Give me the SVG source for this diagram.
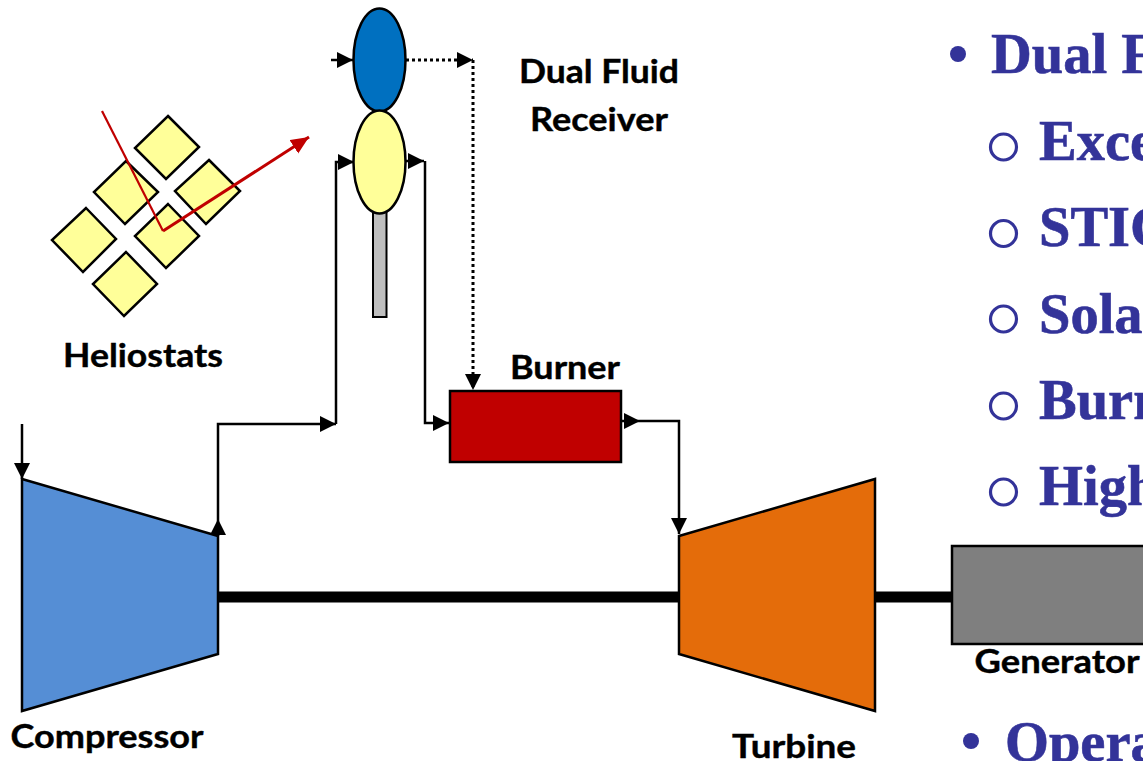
<svg xmlns="http://www.w3.org/2000/svg" width="1143" height="761" viewBox="0 0 1143 761">
<style>
.s{stroke:#000;stroke-width:2.500}
.h{fill:#ffff99}
.l{font-family:Lato,"Open Sans",sans-serif;font-weight:700;font-size:32px;fill:#000;text-anchor:middle;stroke:#000;stroke-width:.4}
.b{font-family:"Liberation Serif","Times New Roman",serif;font-weight:700;font-size:56.500px;fill:#333399;stroke:#333399;stroke-width:.6}
.c{fill:none;stroke:#000;stroke-width:2.500}
.d{fill:none;stroke:#000;stroke-width:3;stroke-dasharray:3 3}
.o{fill:none;stroke:#333399;stroke-width:3.200}
</style>
<defs>
<marker id="a" markerUnits="userSpaceOnUse" markerWidth="16" markerHeight="16" refX="16" refY="8" orient="auto"><path d="M0 0L16 8L0 16Z" fill="#000"/></marker>
<marker id="r" markerUnits="userSpaceOnUse" markerWidth="20" markerHeight="18" refX="18" refY="8" orient="auto"><path d="M0 0L18 8L0 16Z" fill="#c00000"/></marker>
</defs>
<rect width="1143" height="761" fill="#fff"/>
<g id="heliostats">
<path class="s h" d="M168 116L199 147L166 179L135 148Z"/>
<path class="s h" d="M126 161L158 192L125 224L94 192Z"/>
<path class="s h" d="M209 160L240 191L206 224L175 191Z"/>
<path class="s h" d="M86 208L116 239L83 272L52 240Z"/>
<path class="s h" d="M168 204L199 236L166 268L135 236Z"/>
<path class="s h" d="M126 252L157 284L124 316L93 284Z"/>
<path d="M102 111L163 231" fill="none" stroke="#c00000" stroke-width="2.200"/>
<path d="M163 231L309 137" fill="none" stroke="#c00000" stroke-width="3" marker-end="url(#r)"/>
<text class="l" x="143" y="367" textLength="160" lengthAdjust="spacingAndGlyphs">Heliostats</text>
</g>
<g id="receiver">
<rect x="373" y="210" width="13.500" height="107" fill="#bfbfbf" stroke="#000" stroke-width="2"/>
<ellipse cx="379.500" cy="60" rx="26" ry="51.500" fill="#0070c0" class="s"/>
<ellipse cx="379.500" cy="162" rx="26" ry="51.500" class="s h"/>
<text class="l" x="599" y="83" textLength="160" lengthAdjust="spacingAndGlyphs">Dual Fluid</text>
<text class="l" x="599" y="131" textLength="138" lengthAdjust="spacingAndGlyphs">Receiver</text>
</g>
<g id="burner">
<rect x="450" y="391" width="171" height="71" fill="#c00000" class="s"/>
<text class="l" x="565" y="379" textLength="110" lengthAdjust="spacingAndGlyphs">Burner</text>
</g>
<g id="compressor">
<path class="s" d="M22 479L218 536V654L22 711Z" fill="#558ed5"/>
<text class="l" x="107" y="748" textLength="193" lengthAdjust="spacingAndGlyphs">Compressor</text>
</g>
<g id="turbine">
<path class="s" d="M679 536L875 479V711L679 654Z" fill="#e46c0a"/>
<text class="l" x="794" y="758" textLength="124" lengthAdjust="spacingAndGlyphs">Turbine</text>
</g>
<g id="generator">
<rect x="952" y="546" width="200" height="98" fill="#7f7f7f" class="s"/>
<text class="l" x="1057" y="673" textLength="165" lengthAdjust="spacingAndGlyphs">Generator</text>
</g>
<g id="connectors">
<path d="M218 597H679M875 597H952" fill="none" stroke="#000" stroke-width="11"/>
<path class="c" d="M22 424V479" marker-end="url(#a)"/>
<path class="c" d="M218 519V424H336" marker-end="url(#a)"/>
<path class="c" d="M218 536V519" marker-end="url(#a)"/>
<path class="c" d="M336 424V162H354" marker-end="url(#a)"/>
<path class="c" d="M331 60H353" marker-end="url(#a)"/>
<path class="d" d="M406 60H473" marker-end="url(#a)"/>
<path class="d" d="M473 60V390" marker-end="url(#a)"/>
<path class="c" d="M406 161H424" marker-end="url(#a)"/>
<path class="c" d="M425 161V423H449" marker-end="url(#a)"/>
<path class="c" d="M622 421H640" marker-end="url(#a)"/>
<path class="c" d="M640 421H679V534" marker-end="url(#a)"/>
</g>
<g id="bullets">
<circle cx="958" cy="54" r="8" fill="#333399"/>
<text class="b" x="991" y="73">Dual F</text>
<circle class="o" cx="1003.500" cy="147" r="13"/>
<text class="b" x="1039" y="160">Exce</text>
<circle class="o" cx="1003.500" cy="233.500" r="13"/>
<text class="b" x="1039" y="246">STIC</text>
<circle class="o" cx="1003.500" cy="319" r="13"/>
<text class="b" x="1039" y="333">Sola</text>
<circle class="o" cx="1003.500" cy="406" r="13"/>
<text class="b" x="1039" y="419">Burn</text>
<circle class="o" cx="1003.500" cy="492" r="13"/>
<text class="b" x="1039" y="505">High</text>
<circle cx="971" cy="741" r="8" fill="#333399"/>
<text class="b" x="1005" y="761">Opera</text>
</g>
</svg>
